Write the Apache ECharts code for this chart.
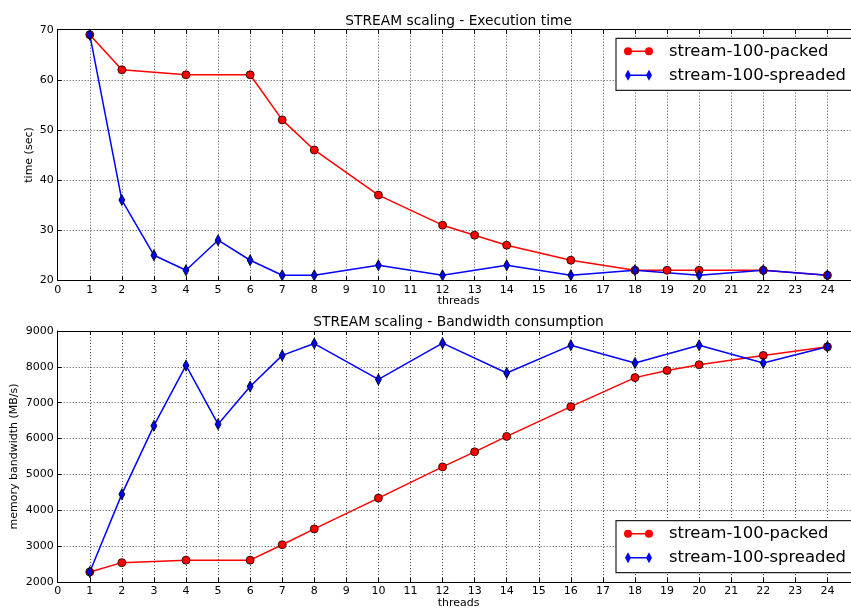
<!DOCTYPE html>
<html>
<head>
<meta charset="utf-8">
<script src="https://cdn.jsdelivr.net/npm/echarts@6/dist/echarts.min.js"></script>
<style>
html,body{margin:0;padding:0;background:#fff;}
#chart{width:851px;height:609px;}
</style>
</head>
<body>
<div id="chart"></div>
<script>
// ---- data ----
const threadsPacked   = [1, 2, 4, 6, 7, 8, 10, 12, 13, 14, 16, 18, 19, 20, 22, 24];
const threadsSpreaded = [1, 2, 3, 4, 5, 6, 7, 8, 10, 12, 14, 16, 18, 20, 22, 24];
const timePacked   = [69, 62, 61, 61, 52, 46, 37, 31, 29, 27, 24, 22, 22, 22, 22, 21];
const timeSpreaded = [69, 36, 25, 22, 28, 24, 21, 21, 23, 21, 23, 21, 22, 21, 22, 21];
const bwPacked   = [2280, 2540, 2610, 2610, 3040, 3480, 4340, 5210, 5630, 6060, 6890, 7700, 7900, 8060, 8320, 8560];
const bwSpreaded = [2280, 4450, 6360, 8040, 6400, 7450, 8320, 8650, 7650, 8660, 7830, 8600, 8110, 8600, 8110, 8560];
const seriesNames = ['stream-100-packed', 'stream-100-spreaded'];
const titles = ['STREAM scaling - Execution time', 'STREAM scaling - Bandwidth consumption'];
const yNames = ['time (sec)', 'memory bandwidth (MB/s)'];
const xName = 'threads';
const xRange = [0, 25, 1];
const timeRange = [20, 70, 10];
const bwRange = [2000, 9000, 1000];

// ---- layout ----
const FONT = 'DejaVu Sans';
const gridLeft = 57.7, gridWidth = 801.8;
const grids = [
  {left: gridLeft, top: 29.7, width: gridWidth, height: 250.6, outerBoundsMode: 'none', containLabel: false},
  {left: gridLeft, top: 331, width: gridWidth, height: 251, outerBoundsMode: 'none', containLabel: false}
];
const zip = (xs, ys) => xs.map((x, i) => [x, ys[i]]);
const plain = v => String(v);

const dotted = {show: true, lineStyle: {color: '#000', width: 0.7, type: [1, 2]}};
const axisLineBlack = {show: true, lineStyle: {color: '#000', width: 1}};

function bottomX(gi, gap) {
  return {
    type: 'value', gridIndex: gi, position: 'bottom',
    min: xRange[0], max: xRange[1], interval: xRange[2],
    name: xName, nameLocation: 'middle', nameGap: gap, nameMoveOverlap: false,
    nameTextStyle: {fontFamily: FONT, fontSize: 11, color: '#000'},
    axisLine: axisLineBlack,
    axisTick: {show: true, inside: true, length: 4, lineStyle: {color: '#000'}},
    axisLabel: {fontFamily: FONT, fontSize: 11, color: '#000', margin: 4, showMaxLabel: false, formatter: plain},
    splitLine: dotted
  };
}
function topX(gi) {
  return {
    type: 'value', gridIndex: gi, position: 'top',
    min: xRange[0], max: xRange[1], interval: xRange[2],
    axisLine: axisLineBlack,
    axisTick: {show: true, inside: true, length: 4, lineStyle: {color: '#000'}},
    axisLabel: {show: false},
    splitLine: {show: false}
  };
}
function leftY(gi, range, name, gap) {
  return {
    type: 'value', gridIndex: gi,
    min: range[0], max: range[1], interval: range[2],
    name: name, nameLocation: 'middle', nameGap: gap, nameRotate: 90, nameMoveOverlap: false,
    nameTextStyle: {fontFamily: FONT, fontSize: 11, color: '#000'},
    axisLine: axisLineBlack,
    axisTick: {show: true, inside: true, length: 4, lineStyle: {color: '#000'}},
    axisLabel: {fontFamily: FONT, fontSize: 11, color: '#000', margin: 4, formatter: plain},
    splitLine: dotted
  };
}

const iconPacked = 'path://M0,0 M40,11 M0,5.5 A4,4 0 1,1 8,5.5 A4,4 0 1,1 0,5.5 Z ' +
  'M4,4.75 L25,4.75 L25,6.25 L4,6.25 Z M21,5.5 A4,4 0 1,1 29,5.5 A4,4 0 1,1 21,5.5 Z';
const iconSpread = 'path://M0,0 M40,11 M4,0 L7,5.5 L4,11 L1,5.5 Z ' +
  'M4,4.75 L25,4.75 L25,6.25 L4,6.25 Z M25,0 L28,5.5 L25,11 L22,5.5 Z';

function legend(top) {
  return {
    orient: 'vertical', left: 616, top: top,
    padding: [4, 20, 6, 8],
    itemWidth: 40, itemHeight: 11, itemGap: 6,
    backgroundColor: '#fff', borderColor: '#222', borderWidth: 1.2,
    textStyle: {fontFamily: FONT, fontSize: 16.4, color: '#000', lineHeight: 18},
    itemStyle: {borderWidth: 0},
    data: [
      {name: seriesNames[0], icon: iconPacked},
      {name: seriesNames[1], icon: iconSpread}
    ]
  };
}

function mkSeries(name, xi, yi, data, color, symbol, size) {
  return {
    name: name, type: 'line', xAxisIndex: xi, yAxisIndex: yi,
    data: data, symbol: symbol, symbolSize: size, showSymbol: true,
    lineStyle: {color: color, width: 1.5},
    itemStyle: {color: color, borderColor: '#000', borderWidth: 0.8},
    emphasis: {disabled: true},
    z: 3
  };
}

const option = {
  animation: false,
  backgroundColor: '#fff',
  textStyle: {fontFamily: FONT},
  title: [
    {text: titles[0], left: 458.6, top: 14, textAlign: 'center', padding: 0,
     textStyle: {fontFamily: FONT, fontSize: 13.8, fontWeight: 'normal', color: '#000'}},
    {text: titles[1], left: 458.6, top: 315, textAlign: 'center', padding: 0,
     textStyle: {fontFamily: FONT, fontSize: 13.8, fontWeight: 'normal', color: '#000'}}
  ],
  legend: [legend(38.3), legend(520.7)],
  grid: grids,
  xAxis: [bottomX(0, 15), bottomX(1, 16), topX(0), topX(1)],
  yAxis: [leftY(0, timeRange, yNames[0], 23), leftY(1, bwRange, yNames[1], 38)],
  series: [
    mkSeries(seriesNames[0], 0, 0, zip(threadsPacked, timePacked), '#ff0000', 'circle', 8),
    mkSeries(seriesNames[1], 0, 0, zip(threadsSpreaded, timeSpreaded), '#0000ff', 'diamond', [6, 11]),
    mkSeries(seriesNames[0], 1, 1, zip(threadsPacked, bwPacked), '#ff0000', 'circle', 8),
    mkSeries(seriesNames[1], 1, 1, zip(threadsSpreaded, bwSpreaded), '#0000ff', 'diamond', [6, 11])
  ]
};

const chart = echarts.init(document.getElementById('chart'), null, {renderer: 'canvas'});
chart.setOption(option);
</script>
</body>
</html>
